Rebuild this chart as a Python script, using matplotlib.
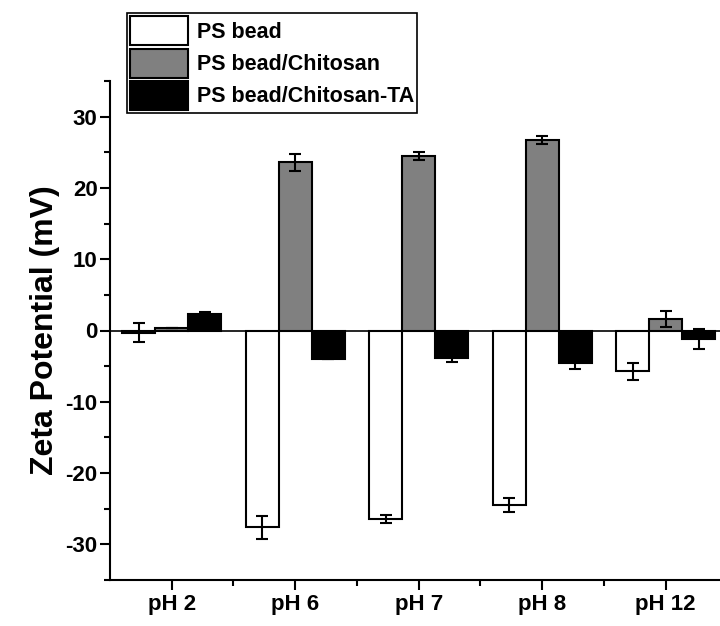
import numpy as np
import matplotlib
matplotlib.use("Agg")
import matplotlib.pyplot as plt
from matplotlib.ticker import MultipleLocator, FixedLocator

plt.rcParams['font.family'] = ['Liberation Sans', 'DejaVu Sans']
plt.rcParams['font.weight'] = 'bold'

# data
categories = ['pH 2', 'pH 6', 'pH 7', 'pH 8', 'pH 12']
series_names = ['PS bead', 'PS bead/Chitosan', 'PS bead/Chitosan-TA']
ps_bead = [-0.3, -27.6, -26.5, -24.5, -5.7]
ps_bead_err = [1.3, 1.6, 0.55, 0.95, 1.2]
ps_chitosan = [0.35, 23.6, 24.5, 26.7, 1.65]
ps_chitosan_err = [0.0, 1.2, 0.55, 0.6, 1.1]
ps_chitosan_ta = [2.3, -4.0, -3.8, -4.6, -1.2]
ps_chitosan_ta_err = [0.3, 0.0, 0.65, 0.8, 1.35]
y_ticks = [-30, -20, -10, 0, 10, 20, 30]

fig = plt.figure(figsize=(7.2, 6.26), dpi=100)
ax = fig.add_axes([110 / 720, 1 - 580 / 626, 610 / 720, (580 - 81) / 626])

x = np.arange(1, len(categories) + 1)
w = 0.8 / 3
colors = ['white', '#808080', 'black']
values = [ps_bead, ps_chitosan, ps_chitosan_ta]
errors = [ps_bead_err, ps_chitosan_err, ps_chitosan_ta_err]

handles = []
for i in range(3):
    b = ax.bar(x + (i - 1) * w, values[i], w, color=colors[i], edgecolor='black',
               linewidth=1.5, label=series_names[i], zorder=2)
    ax.errorbar(x + (i - 1) * w, values[i], yerr=errors[i], fmt='none',
                ecolor='black', elinewidth=1.5, capsize=4, capthick=1.5, zorder=3)
    handles.append(b)

ax.axhline(0, color='black', linewidth=1.2, zorder=1)

ax.set_xlim(0.5, 5.44)
ax.set_ylim(-35, 35)
ax.set_xticks(x)
ax.set_xticklabels(categories, fontsize=16, fontweight='bold')
ax.xaxis.set_minor_locator(FixedLocator(x[:-1] + 0.5))
ax.set_yticks(y_ticks)
ax.set_yticklabels([str(t) for t in y_ticks], fontsize=16, fontweight='bold')
ax.yaxis.set_minor_locator(MultipleLocator(5))
ax.tick_params(which='major', direction='out', length=7, width=1.5, pad=3)
ax.tick_params(axis='y', which='major', pad=2)
ax.tick_params(which='minor', direction='out', length=4, width=1.5)
ax.set_ylabel('Zeta Potential (mV)', fontsize=23, fontweight='bold', labelpad=4)

for s in ['top', 'right']:
    ax.spines[s].set_visible(False)
for s in ['left', 'bottom']:
    ax.spines[s].set_linewidth(1.5)

leg = fig.legend(handles=handles, labels=series_names, loc='upper left',
                 bbox_to_anchor=(127 / 720, 1 - 13 / 626), fontsize=15.5,
                 handlelength=2.7, handleheight=1.7, labelspacing=0.15,
                 handletextpad=0.4, borderpad=0.15, borderaxespad=0,
                 fancybox=False, framealpha=1, edgecolor='black')
leg.get_frame().set_linewidth(1.2)
for t in leg.get_texts():
    t.set_fontweight('bold')

fig.savefig('out.png', dpi=100)
